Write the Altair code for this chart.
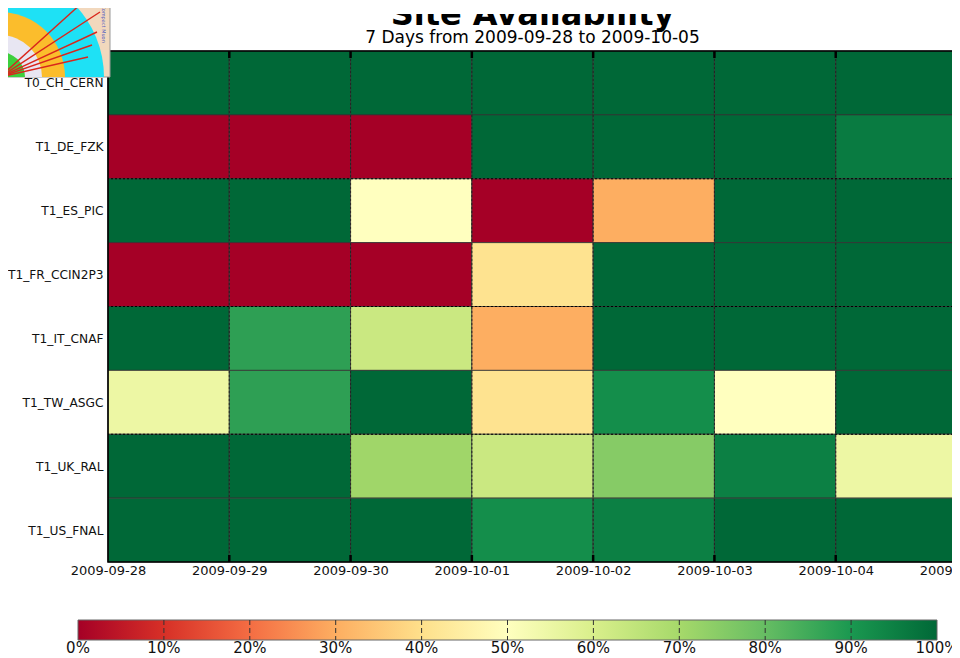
import json
import math
import altair as alt
import pandas as pd

# ---------------- data ----------------
SITES = ["T0_CH_CERN", "T1_DE_FZK", "T1_ES_PIC", "T1_FR_CCIN2P3",
         "T1_IT_CNAF", "T1_TW_ASGC", "T1_UK_RAL", "T1_US_FNAL"]
DATE_LABELS = ["2009-09-28", "2009-09-29", "2009-09-30", "2009-10-01",
               "2009-10-02", "2009-10-03", "2009-10-04", "2009-10-05"]

T0_CH_CERN = [100, 100, 100, 100, 100, 100, 100]
T1_DE_FZK = [0, 0, 0, 100, 100, 100, 96]
T1_ES_PIC = [100, 100, 50, 0, 30, 100, 100]
T1_FR_CCIN2P3 = [0, 0, 0, 41, 100, 100, 100]
T1_IT_CNAF = [100, 88, 63, 30, 100, 100, 100]
T1_TW_ASGC = [55, 88, 100, 41, 92, 50, 100]
T1_UK_RAL = [100, 100, 71, 63, 75, 95, 55]
T1_US_FNAL = [100, 100, 100, 92, 95, 100, 100]
VALUES = [T0_CH_CERN, T1_DE_FZK, T1_ES_PIC, T1_FR_CCIN2P3,
          T1_IT_CNAF, T1_TW_ASGC, T1_UK_RAL, T1_US_FNAL]

CBAR_TICKS = [0, 10, 20, 30, 40, 50, 60, 70, 80, 90, 100]
RDYLGN = ["#a50026", "#d73027", "#f46d43", "#fdae61", "#fee08b", "#ffffbf",
          "#d9ef8b", "#a6d96a", "#66bd63", "#1a9850", "#006837"]

TITLE = "Site Availability"
SUBTITLE = "7 Days from 2009-09-28 to 2009-10-05"

# ---------------- tables ----------------
rows = []
for i, site in enumerate(SITES):
    for j, v in enumerate(VALUES[i]):
        rows.append({"site": site, "row": i, "row2": i + 1,
                     "day": j, "day2": j + 1, "value": v})
cells_df = pd.DataFrame(rows)
ndays = len(DATE_LABELS) - 1
nsites = len(SITES)

W, H = 849, 511
xs = alt.Scale(domain=[0, ndays], nice=False, zero=False)
ys = alt.Scale(domain=[0, nsites], nice=False, zero=False, reverse=True)
cs = alt.Scale(domain=CBAR_TICKS, range=RDYLGN)

x_axis = alt.Axis(values=list(range(ndays + 1)),
                  labelExpr=json.dumps(DATE_LABELS) + "[datum.value]",
                  ticks=False, domain=False, grid=False, title=None,
                  labelFontSize=13, labelColor="#111", labelPadding=2,
                  labelFlush=False, labelOverlap=False, labelBound=False)
y_axis = alt.Axis(values=[i + 0.5 for i in range(nsites)],
                  labelExpr=json.dumps(SITES) + "[floor(datum.value)]",
                  ticks=False, domain=False, grid=False, title=None,
                  labelFontSize=12.2, labelColor="#111", labelPadding=5,
                  labelOverlap=False, labelFlush=False)

cells = alt.Chart(cells_df).mark_rect(stroke="#333", strokeWidth=0.8).encode(
    x=alt.X("day:Q", scale=xs, axis=x_axis),
    x2="day2",
    y=alt.Y("row:Q", scale=ys, axis=y_axis),
    y2="row2",
    color=alt.Color("value:Q", scale=cs, legend=None),
)

vb = pd.DataFrame({"day": list(range(1, ndays))})
hb = pd.DataFrame({"row": list(range(2, nsites, 2))})

vgrid = alt.Chart(vb).mark_rule(color="#222", strokeWidth=0.9, strokeDash=[2, 2]).encode(
    x=alt.X("day:Q", scale=xs))
hgrid = alt.Chart(hb).mark_rule(color="#000", strokeWidth=1.2, strokeDash=[2, 2]).encode(
    y=alt.Y("row:Q", scale=ys))

tick_top = alt.Chart(vb).mark_rule(color="#000", strokeWidth=2.5).encode(
    x=alt.X("day:Q", scale=xs), y=alt.value(0), y2=alt.value(7))
tick_bot = alt.Chart(vb).mark_rule(color="#000", strokeWidth=2.5).encode(
    x=alt.X("day:Q", scale=xs), y=alt.value(H - 7), y2=alt.value(H))

frame = alt.Chart().mark_rect(filled=False, stroke="#000", strokeWidth=1.6).encode(
    x=alt.value(0), x2=alt.value(W), y=alt.value(0), y2=alt.value(H))

main = alt.layer(cells, vgrid, hgrid, tick_top, tick_bot, frame)

# ---------------- colour bar ----------------
cbs = alt.Scale(domain=[CBAR_TICKS[0], CBAR_TICKS[-1]], range=[-30, 829], nice=False, zero=False)
CB_TOP, CB_BOT, CB_LAB = 569, 589, 602
grad = alt.Chart(pd.DataFrame({"v": [CBAR_TICKS[0]], "v2": [CBAR_TICKS[-1]]})).mark_rect(
    fill=alt.Gradient(gradient="linear",
                      stops=[alt.GradientStop(offset=k / (len(RDYLGN) - 1), color=c)
                             for k, c in enumerate(RDYLGN)],
                      x1=0, x2=1, y1=0, y2=0),
    stroke="#666", strokeWidth=1).encode(
    x=alt.X("v:Q", scale=cbs, axis=None), x2="v2",
    y=alt.value(CB_TOP), y2=alt.value(CB_BOT))
cb_ticks = alt.Chart(pd.DataFrame({"v": CBAR_TICKS[1:-1]})).mark_rule(
    color="#333", strokeWidth=1, strokeDash=[5, 3]).encode(
    x=alt.X("v:Q", scale=cbs, axis=None), y=alt.value(CB_TOP), y2=alt.value(CB_BOT))
cb_labels = alt.Chart(pd.DataFrame({"v": CBAR_TICKS})).transform_calculate(
    lab="datum.v + '%'").mark_text(fontSize=15, color="#111", baseline="alphabetic",
                                   align="center", font="DejaVu Sans").encode(
    x=alt.X("v:Q", scale=cbs, axis=None), y=alt.value(CB_LAB), text="lab:N")
cbar = alt.layer(grad, cb_ticks, cb_labels)

# ---------------- titles ----------------
title = alt.Chart(pd.DataFrame({"t": [TITLE]})).mark_text(
    fontSize=32, fontWeight="bold", font="DejaVu Sans", color="#000",
    align="center", baseline="alphabetic").encode(
    x=alt.value(W / 2), y=alt.value(-26), text="t:N")
mask = alt.Chart().mark_rect(fill="white").encode(
    x=alt.value(250), x2=alt.value(600), y=alt.value(-50), y2=alt.value(-37))
subtitle = alt.Chart(pd.DataFrame({"t": [SUBTITLE]})).mark_text(
    fontSize=17, font="DejaVu Sans", color="#000",
    align="center", baseline="alphabetic").encode(
    x=alt.value(W / 2), y=alt.value(-8), text="t:N")

# ---------------- logo (decoration) ----------------
CX, CY = -108, 26
logo_bg = alt.Chart().mark_rect(fill="#f2d8bd", stroke="#999", strokeWidth=1).encode(
    x=alt.value(-110), x2=alt.value(2), y=alt.value(-55), y2=alt.value(CY))
logo_layers = [logo_bg]
for r, c in [(104, "#1ee1f5"), (65, "#fbbd2c"), (42, "#e8e6f2"), (25, "#3dcf3d")]:
    logo_layers.append(alt.Chart().mark_arc(theta=0, theta2=math.pi / 2, radius=r,
                                            radius2=0, fill=c).encode(
        x=alt.value(CX), y=alt.value(CY)))
for ex, ey in [(-25, -49), (-8, -39), (-11, -19), (-16, -6), (-20, 6)]:
    logo_layers.append(alt.Chart().mark_rule(color="#d9261c", strokeWidth=1.4).encode(
        x=alt.value(CX), y=alt.value(CY), x2=alt.value(ex), y2=alt.value(ey)))
logo_layers.append(alt.Chart().mark_text(text="Compact Muon", angle=90, fontSize=5,
                                         color="#5560c0", font="DejaVu Sans").encode(
    x=alt.value(-4), y=alt.value(-27)))

chart = alt.layer(main, cbar, title, mask, subtitle, *logo_layers).resolve_scale(
    x="independent").properties(
    width=W, height=H, autosize="none",
    padding={"left": 100, "top": 43, "right": -5, "bottom": 96},
    background="white",
).configure_view(stroke=None).configure_axis(labelFont="DejaVu Sans")

chart.save("out.html", embed_options={"renderer": "svg", "actions": False})
